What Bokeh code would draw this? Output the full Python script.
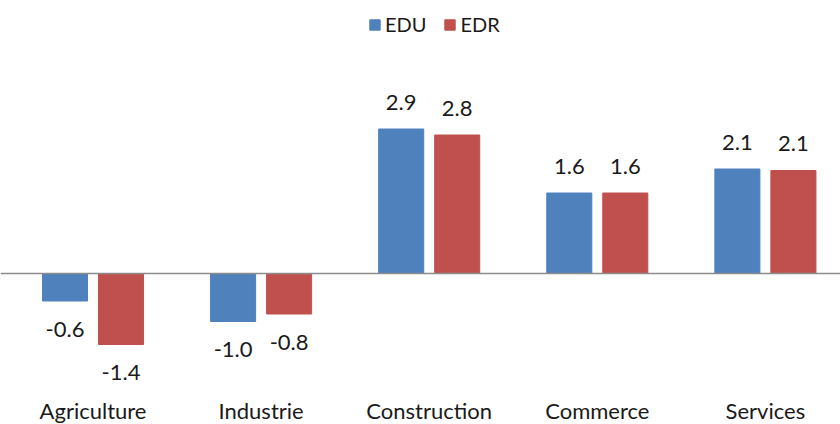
from bokeh.plotting import figure
from bokeh.models import ColumnDataSource, Range1d, Span, Legend, LegendItem
from bokeh.transform import dodge
from bokeh.core.properties import value
from bokeh.embed import file_html
from bokeh.resources import INLINE

categories = ["Agriculture", "Industrie", "Construction", "Commerce", "Services"]
edu = [-0.55, -0.96, 2.89, 1.61, 2.09]
edr = [-1.42, -0.81, 2.77, 1.61, 2.06]
series_names = ["EDU", "EDR"]
colors = ["#4F81BD", "#C0504D"]

FONT = "Lato"
idx = list(range(len(categories)))

src = ColumnDataSource(dict(
    idx=idx, cat=categories, EDU=edu, EDR=edr,
    EDU_lab=[f"{v:.1f}" for v in edu],
    EDR_lab=[f"{v:.1f}" for v in edr],
    EDU_off=[-27 if v >= 0 else 28 for v in edu],
    EDR_off=[-27 if v >= 0 else 28 for v in edr],
    base=[-2.73] * len(categories),
))

p = figure(width=840, height=424, output_backend="svg", toolbar_location=None,
           x_range=Range1d(-0.5503, 4.4468), y_range=Range1d(-3.02, 5.46),
           min_border=0, outline_line_color=None)
p.axis.visible = False
p.grid.visible = False
p.background_fill_color = "white"

p.add_layout(Span(location=0, dimension="width", line_color="#8C8C8C", line_width=1.5))

offs = [-0.1666, 0.1666]
items = []
for name, col, off in zip(series_names, colors, offs):
    r = p.vbar(x=dodge("idx", off, range=p.x_range), top=name, width=0.268,
               source=src, fill_color=col, line_color=col)
    items.append(LegendItem(label=name, renderers=[r]))
    p.text(x=dodge("idx", off, range=p.x_range), y=name, text=name + "_lab",
           y_offset=name + "_off", source=src, text_align="center",
           text_baseline="alphabetic", text_font=value(FONT),
           text_font_size="22px", text_color="#1a1a1a")

p.text(x="idx", y="base", text="cat", source=src, text_align="center",
       text_baseline="alphabetic", text_font=value(FONT),
       text_font_size="22px", text_color="#1a1a1a")

legend = Legend(items=items, orientation="horizontal", location=(368, 388),
                glyph_width=13, glyph_height=13, label_standoff=4, spacing=17,
                padding=0, margin=0, border_line_color=None,
                background_fill_alpha=0, label_text_font=FONT,
                label_text_font_size="20px", label_text_color="#1a1a1a")
p.add_layout(legend)

open("out.html", "w").write(file_html(p, INLINE))
